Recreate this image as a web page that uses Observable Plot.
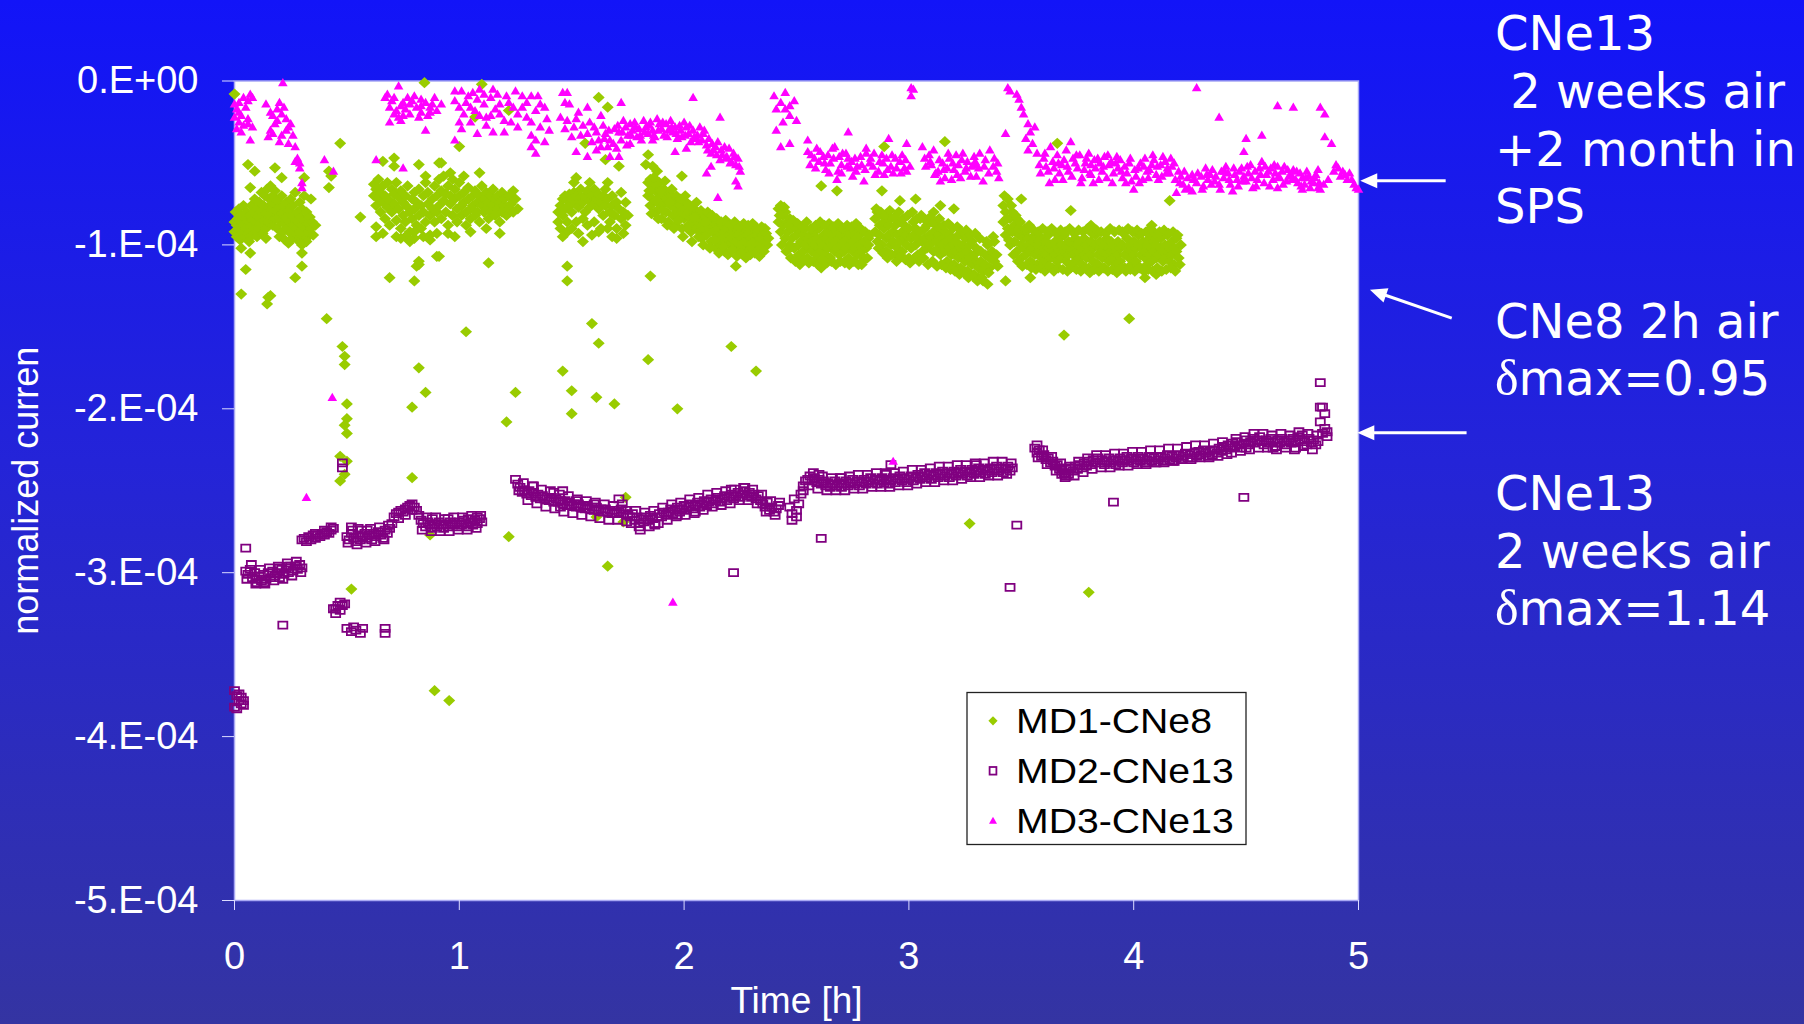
<!DOCTYPE html>
<html><head><meta charset="utf-8">
<script src="https://cdn.jsdelivr.net/npm/d3@7"></script>
<script src="https://cdn.jsdelivr.net/npm/@observablehq/plot@0.6"></script>
<style>
html,body{margin:0;padding:0;}
body{width:1804px;height:1024px;overflow:hidden;position:relative;
 background:linear-gradient(180deg,#1214f8 0%,#2424d8 45%,#3434a2 100%);}
#chart{position:absolute;left:0;top:0;}
#overlay{position:absolute;left:0;top:0;pointer-events:none;}
</style></head><body>
<div id="chart"></div>
<svg id="overlay" width="1804" height="1024"></svg>
<script>
// ---- data (time in h, current in units of 1e-4) ----
const seriesNames = ["MD1-CNe8", "MD2-CNe13", "MD3-CNe13"];
const seriesColors = ["#99cc00", "#800080", "#ff00ff"];
const xTicks = [0, 1, 2, 3, 4, 5];
const xTickLabels = ["0", "1", "2", "3", "4", "5"];
const yTicks = [0, -1, -2, -3, -4, -5];
const yTickLabels = ["0.E+00", "-1.E-04", "-2.E-04", "-3.E-04", "-4.E-04", "-5.E-04"];
const UNIT = 1e-4;

const md1 = [
[.0,-.86],[.0,-.92],[.005,-.8],[.01,-.88],[.01,-.95],[.015,-.84],[.02,-.9],[.02,-.78],[.025,-.97],[.03,-.86],[.03,-.82],[.035,-.92],[.04,-.88],[.04,-.76],[.045,-.95],[.05,-.84],[.05,-.9],[.055,-.8],[.06,-.93],[.06,-.86],[.065,-.98],[.07,-.82],[.07,-.89],[.075,-.76],[.08,-.85],[.08,-.94],[.085,-.8],[.09,-.9],[.09,-.72],[.095,-.86],[.1,-.78],[.1,-.95],[.105,-.83],[.11,-.74],[.11,-.9],[.115,-.87],[.12,-.8],[.12,-.68],[.125,-.93],[.13,-.76],[.13,-.85],[.135,-.7],[.14,-.9],[.14,-.81],[.145,-.66],[.15,-.77],[.15,-.86],[.155,-.72],[.16,-.82],[.16,-.64],[.165,-.78],[.17,-.7],[.17,-.88],[.175,-.75],[.18,-.84],[.18,-.67],[.185,-.79],[.19,-.9],[.19,-.73],[.195,-.83],[.2,-.77],[.2,-.95],[.205,-.86],[.21,-.7],[.21,-.81],[.215,-.92],[.22,-.76],[.22,-.87],[.225,-.97],[.23,-.83],[.23,-.74],[.235,-.9],[.24,-.79],[.24,-.99],[.245,-.86],[.25,-.72],[.25,-.93],[.255,-.82],[.26,-.88],[.26,-.76],[.265,-.95],[.27,-.84],[.27,-.68],[.275,-.9],[.28,-.8],[.28,-.97],[.285,-.86],[.29,-.74],[.29,-.92],[.295,-.83],[.3,-.88],[.3,-.78],[.305,-.95],[.31,-.85],[.31,-.7],[.315,-.9],[.32,-.8],[.32,-.96],[.325,-.87],[.33,-.92],[.335,-.83],[.34,-.9],[.345,-.86],[.35,-.94],[.36,-.88],
[.0,-.08],[.06,-.51],[.09,-.55],[.18,-.53],[.07,-.65],[.21,-.59],[.31,-.59],[.34,-.72],[.03,-1.02],[.07,-1.05],[.05,-1.15],[.3,-1.05],[.3,-1.13],[.27,-1.2],[.03,-1.3],[.15,-1.32],[.145,-1.36],[.16,-1.31],[.32,-.98],[.14,-.96],[.25,-.97],[.3,-1.0],
[.42,-.65],[.43,-.58],[.42,-.55],[.47,-.38],[.56,-.83],[.41,-1.45],[.48,-1.62],[.49,-1.68],[.49,-1.73],[.5,-1.97],[.5,-2.06],[.49,-2.1],[.5,-2.15],[.47,-2.29],[.5,-2.32],[.49,-2.4],[.47,-2.44],[.52,-3.1],
[.62,-.63],[.62,-.7],[.63,-.66],[.63,-.76],[.64,-.6],[.64,-.72],[.65,-.68],[.65,-.8],[.66,-.64],[.66,-.74],[.67,-.7],[.67,-.84],[.68,-.62],[.68,-.77],[.69,-.73],[.69,-.88],[.7,-.66],[.7,-.8],[.71,-.75],[.71,-.69],[.72,-.85],[.72,-.62],[.73,-.78],[.73,-.71],[.74,-.9],[.74,-.67],[.75,-.82],[.75,-.74],[.76,-.7],[.76,-.86],[.77,-.77],[.77,-.64],[.78,-.8],[.78,-.92],[.79,-.72],[.79,-.84],[.8,-.68],[.8,-.78],[.81,-.88],[.81,-.74],[.82,-.82],[.82,-.66],[.83,-.76],[.83,-.9],[.84,-.7],[.84,-.8],[.85,-.62],[.85,-.86],[.86,-.75],[.86,-.68],[.87,-.82],[.87,-.94],[.88,-.72],[.88,-.78],[.89,-.64],[.89,-.86],[.9,-.7],[.9,-.8],[.91,-.6],[.91,-.76],[.92,-.84],[.92,-.67],[.93,-.73],[.93,-.58],[.94,-.8],[.94,-.69],[.95,-.64],[.95,-.88],[.96,-.75],[.96,-.7],[.97,-.6],[.97,-.82],[.98,-.72],[.98,-.66],[.99,-.78],[.99,-.86],[1.0,-.7],[1.0,-.62],[1.01,-.76],[1.01,-.82],[1.02,-.68],[1.02,-.74],[1.03,-.8],[1.03,-.88],[1.04,-.72],[1.04,-.65],[1.05,-.78],[1.05,-.84],[1.06,-.7],[1.06,-.76],[1.07,-.82],[1.07,-.67],[1.08,-.74],[1.08,-.8],[1.09,-.7],[1.09,-.86],[1.1,-.76],[1.1,-.64],[1.11,-.8],[1.11,-.72],[1.12,-.68],[1.12,-.78],[1.13,-.74],[1.13,-.84],[1.14,-.7],[1.14,-.8],[1.15,-.76],[1.15,-.66],[1.16,-.72],[1.16,-.82],[1.17,-.78],[1.17,-.7],[1.18,-.74],[1.18,-.86],[1.19,-.8],[1.19,-.68],[1.2,-.76],[1.2,-.72],[1.21,-.82],[1.22,-.78],[1.22,-.7],[1.23,-.75],[1.24,-.8],[1.25,-.72],[1.26,-.78],
[.76,-.95],[.8,-.96],[.87,-.97],[.95,-.93],[.63,-.89],[.63,-.95],[.74,-.96],[.8,-.92],
[.66,-.49],[.71,-.47],[.71,-.52],[.82,-.51],[.92,-.5],[1.09,-.56],[1.24,-.67],[.9,-1.07],[.82,-1.12],[.8,-1.22],[.69,-1.2],[1.13,-1.11],[1.03,-1.53],[.81,-1.13],[.82,-1.1],[.91,-1.07],[1.0,-.4],[.845,-.01],[1.1,-.02],[1.22,-.18],[1.07,-.22],[.91,-.5],[.79,-1.99],[.82,-1.75],[.85,-1.9],[.79,-2.42],[.87,-2.77],[.89,-3.72],[.955,-3.78],[1.21,-2.08],[1.25,-1.9],[1.22,-2.78],
[1.44,-.8],[1.44,-.86],[1.45,-.76],[1.45,-.9],[1.46,-.72],[1.46,-.82],[1.47,-.7],[1.47,-.78],[1.48,-.73],[1.48,-.86],[1.49,-.69],[1.49,-.76],[1.5,-.72],[1.5,-.8],[1.51,-.68],[1.52,-.74],[1.52,-.7],[1.53,-.77],[1.54,-.71],[1.54,-.66],[1.55,-.74],[1.56,-.7],[1.56,-.8],[1.57,-.67],[1.58,-.73],[1.58,-.77],[1.59,-.7],[1.6,-.75],[1.6,-.66],[1.61,-.72],[1.62,-.78],[1.62,-.69],[1.63,-.74],[1.64,-.7],[1.64,-.82],[1.65,-.66],[1.65,-.76],[1.66,-.72],[1.67,-.8],[1.67,-.86],[1.68,-.7],[1.68,-.76],[1.69,-.82],[1.7,-.74],[1.7,-.9],[1.71,-.78],[1.72,-.84],[1.72,-.68],[1.73,-.8],[1.74,-.88],[1.74,-.74],[1.75,-.82],
[1.48,-.92],[1.55,-.84],[1.6,-.86],[1.66,-.9],[1.7,-.96],[1.52,-.86],[1.62,-.92],
[1.48,-1.13],[1.48,-1.22],[1.55,-.98],[1.52,-.59],[1.56,-.38],[1.62,-.1],[1.66,-.16],[1.59,-1.48],[1.62,-1.6],[1.46,-1.77],[1.5,-1.89],[1.5,-2.03],[1.61,-1.93],[1.69,-1.97],[1.74,-2.54],[1.61,-2.66],[1.73,-2.69],[1.66,-2.96],[1.65,-.48],[1.71,-.52],
[1.84,-.62],[1.84,-.7],[1.85,-.6],[1.85,-.76],[1.86,-.66],[1.86,-.72],[1.87,-.64],[1.87,-.8],[1.88,-.68],[1.88,-.74],[1.89,-.62],[1.89,-.78],[1.9,-.7],[1.9,-.84],[1.91,-.66],[1.91,-.75],[1.92,-.72],[1.92,-.8],[1.93,-.68],[1.93,-.86],[1.94,-.76],[1.94,-.7],[1.95,-.82],[1.95,-.74],[1.96,-.78],[1.96,-.88],[1.97,-.72],[1.97,-.8],[1.98,-.76],[1.98,-.84],[1.99,-.8],[1.99,-.9],[2.0,-.78],[2.0,-.84],[2.01,-.82],[2.01,-.74],[2.02,-.88],[2.02,-.8],[2.03,-.84],[2.03,-.92],[2.04,-.78],[2.04,-.86],[2.05,-.82],[2.05,-.9],[2.06,-.86],[2.06,-.8],[2.07,-.92],[2.07,-.84],[2.08,-.88],[2.08,-.96],[2.09,-.82],[2.09,-.9],[2.1,-.86],[2.1,-.94],[2.11,-.9],[2.11,-.84],[2.12,-.98],[2.12,-.88],[2.13,-.92],[2.13,-.86],[2.14,-.96],[2.14,-1.02],[2.15,-.9],[2.15,-.86],[2.16,-.94],[2.16,-1.0],[2.17,-.88],[2.17,-.96],[2.18,-.92],[2.18,-1.04],[2.19,-.98],[2.19,-.9],[2.2,-.94],[2.2,-1.0],[2.21,-.88],[2.21,-.96],[2.22,-1.02],[2.22,-.92],[2.23,-.98],[2.23,-.9],[2.24,-.94],[2.24,-1.04],[2.25,-1.0],[2.25,-.92],[2.26,-.96],[2.26,-1.02],[2.27,-.9],[2.27,-.98],[2.28,-.94],[2.28,-1.05],[2.29,-1.0],[2.29,-.92],[2.3,-.96],[2.3,-1.02],[2.31,-.9],[2.31,-.98],[2.32,-.94],[2.32,-1.04],[2.33,-1.0],[2.33,-.92],[2.34,-.96],[2.34,-1.02],[2.35,-.94],[2.36,-.98],[2.36,-.9],[2.37,-1.0],
[1.84,-.45],[1.83,-.51],[1.99,-.58],[1.85,-1.19],[2.23,-1.13],[1.84,-1.7],[2.21,-1.62],[2.32,-1.77],[1.97,-2.0],[1.86,-.52],[1.88,-.55],
[2.42,-.78],[2.42,-.86],[2.43,-.76],[2.43,-.92],[2.44,-.82],[2.44,-.88],[2.45,-.8],[2.45,-.96],[2.46,-.86],[2.46,-.92],[2.47,-.84],[2.47,-1.0],[2.48,-.9],[2.48,-.96],[2.49,-.88],[2.49,-1.02],[2.5,-.94],[2.5,-.9],[2.51,-1.0],[2.51,-1.06],[2.52,-.92],[2.52,-.98],[2.53,-1.04],[2.53,-.94],[2.54,-1.0],[2.54,-.9],[2.55,-.96],[2.55,-1.08],[2.56,-1.02],[2.56,-.94],[2.57,-.98],[2.57,-1.04],[2.58,-.92],[2.58,-1.0],[2.59,-.96],[2.59,-1.06],[2.6,-1.02],[2.6,-.9],[2.61,-.98],[2.61,-1.04],[2.62,-.94],[2.62,-1.0],[2.63,-1.06],[2.63,-.96],[2.64,-1.02],[2.64,-.92],[2.65,-.98],[2.65,-1.08],[2.66,-1.0],[2.66,-.94],[2.67,-1.04],[2.67,-.98],[2.68,-.92],[2.68,-1.02],[2.69,-.96],[2.69,-1.06],[2.7,-1.0],[2.7,-.94],[2.71,-1.04],[2.71,-.98],[2.72,-.92],[2.72,-1.02],[2.73,-.96],[2.73,-1.08],[2.74,-1.0],[2.74,-.94],[2.75,-1.04],[2.75,-.98],[2.76,-.92],[2.76,-1.02],[2.77,-.96],[2.77,-1.06],[2.78,-1.0],[2.78,-.94],[2.79,-1.04],[2.8,-.98],[2.8,-1.08],[2.81,-1.02],[2.82,-.96],[2.82,-1.0],
[2.61,-1.14],[2.61,-.64],[2.68,-.67],[2.79,-1.12],
[2.85,-.84],[2.85,-.92],[2.86,-.8],[2.86,-.98],[2.87,-.88],[2.87,-.94],[2.88,-.82],[2.88,-1.0],[2.89,-.9],[2.89,-.86],[2.9,-.96],[2.9,-1.04],[2.91,-.88],[2.91,-.94],[2.92,-1.0],[2.92,-.84],[2.93,-.92],[2.93,-.98],[2.94,-1.06],[2.94,-.88],[2.95,-.94],[2.95,-1.02],[2.96,-.86],[2.96,-.98],[2.97,-.92],[2.97,-1.04],[2.98,-.96],[2.98,-.88],[2.99,-1.0],[2.99,-.94],[3.0,-1.08],[3.0,-.9],[3.01,-.96],[3.01,-1.02],[3.02,-.86],[3.02,-.94],[3.03,-1.0],[3.03,-.9],[3.04,-.96],[3.04,-1.06],[3.05,-.92],[3.05,-.84],[3.06,-.98],[3.06,-1.04],[3.07,-.9],[3.07,-.96],[3.08,-1.02],[3.08,-.88],[3.09,-.94],[3.09,-1.0],[3.1,-.86],[3.1,-.96],[3.11,-1.04],[3.11,-.92],[3.12,-.98],[3.12,-.88],[3.13,-1.02],[3.13,-.94],[3.14,-.9],[3.14,-1.06],[3.15,-.96],[3.15,-1.0],[3.16,-.92],[3.16,-1.04],[3.17,-.98],[3.17,-1.1],[3.18,-.94],[3.18,-1.02],[3.19,-1.06],[3.19,-.96],[3.2,-1.0],[3.2,-1.12],[3.21,-.98],[3.21,-1.04],[3.22,-1.08],[3.22,-.94],[3.23,-1.02],[3.23,-1.14],[3.24,-1.0],[3.24,-1.06],[3.25,-1.1],[3.25,-.96],[3.26,-1.04],[3.26,-1.16],[3.27,-1.0],[3.27,-1.08],[3.28,-1.12],[3.28,-.98],[3.29,-1.06],[3.29,-1.18],[3.3,-1.02],[3.3,-1.1],[3.31,-1.14],[3.31,-1.2],[3.32,-1.04],[3.32,-1.1],[3.33,-1.16],[3.33,-1.22],[3.34,-1.06],[3.34,-1.12],[3.35,-1.24],[3.35,-1.0],[3.36,-1.08],[3.36,-1.14],[3.37,-1.04],[3.38,-1.1],[3.38,-.98],[3.39,-1.06],
[2.89,-.4],[3.16,-.37],[2.88,-.67],[2.96,-.73],[3.03,-.72],[3.11,-.8],[3.2,-.78],[3.27,-2.7],[3.14,-.76],
[3.42,-.76],[3.42,-.86],[3.43,-.8],[3.43,-.94],[3.44,-.72],[3.44,-.9],[3.45,-.84],[3.45,-1.0],[3.46,-.8],[3.46,-.92],[3.47,-.88],[3.47,-.98],[3.48,-.84],[3.48,-1.04],[3.49,-.94],[3.49,-.9],[3.5,-1.0],[3.5,-1.08],[3.51,-.96],[3.51,-1.02],[3.52,-.92],[3.52,-1.06],[3.53,-1.0],[3.53,-.96],[3.54,-1.04],[3.54,-1.1],[3.55,-.98],[3.55,-1.02],[3.56,-1.06],[3.56,-.94],[3.57,-1.0],[3.57,-1.12],[3.58,-1.04],[3.58,-.98],[3.59,-1.08],[3.59,-.96],[3.6,-1.02],[3.6,-1.1],[3.61,-.98],[3.61,-1.06],[3.62,-1.02],[3.62,-.94],[3.63,-1.08],[3.63,-1.0],[3.64,-1.04],[3.64,-1.14],[3.65,-.98],[3.65,-1.06],[3.66,-1.02],[3.66,-1.1],[3.67,-.96],[3.67,-1.04],[3.68,-1.08],[3.68,-1.0],[3.69,-1.04],[3.69,-.94],[3.7,-1.1],[3.7,-1.02],[3.71,-.98],[3.71,-1.06],[3.72,-1.02],[3.72,-1.14],[3.73,-1.0],[3.73,-1.06],[3.74,-.96],[3.74,-1.1],[3.75,-1.04],[3.75,-1.0],[3.76,-1.08],[3.76,-.98],[3.77,-1.02],[3.77,-1.12],[3.78,-1.06],[3.78,-.96],[3.79,-1.0],[3.79,-1.08],[3.8,-1.04],[3.8,-1.14],[3.81,-.98],[3.81,-1.06],[3.82,-1.02],[3.82,-1.1],[3.83,-1.0],[3.83,-.94],[3.84,-1.06],[3.84,-1.12],[3.85,-1.02],[3.85,-.98],[3.86,-1.08],[3.86,-1.04],[3.87,-1.0],[3.87,-1.14],[3.88,-1.06],[3.88,-.96],[3.89,-1.02],[3.89,-1.1],[3.9,-1.04],[3.9,-.98],[3.91,-1.08],[3.91,-1.0],[3.92,-1.12],[3.92,-1.04],[3.93,-.98],[3.93,-1.06],[3.94,-1.02],[3.94,-1.1],[3.95,-1.0],[3.95,-.92],[3.96,-1.06],[3.96,-1.14],[3.97,-1.02],[3.97,-.96],[3.98,-1.08],[3.98,-1.0],[3.99,-1.04],[3.99,-1.12],[4.0,-.98],[4.0,-1.06],[4.01,-1.02],[4.01,-1.1],[4.02,-1.0],[4.02,-.94],[4.03,-1.06],[4.03,-1.14],[4.04,-1.02],[4.04,-.98],[4.05,-1.08],[4.05,-1.04],[4.06,-1.0],[4.06,-1.12],[4.07,-1.06],[4.07,-.96],[4.08,-1.02],[4.08,-1.1],[4.09,-1.04],[4.09,-.98],[4.1,-1.08],[4.1,-1.0],[4.11,-1.06],[4.11,-1.16],[4.12,-1.02],[4.12,-.96],[4.13,-1.1],[4.13,-1.04],[4.14,-1.0],[4.14,-1.08],[4.15,-1.04],[4.15,-.94],[4.16,-1.1],[4.16,-1.02],[4.17,-.98],[4.17,-1.06],[4.18,-1.02],[4.18,-1.12],[4.19,-1.04],[4.19,-.96],[4.2,-1.08],[4.21,-1.0],
[3.5,-.72],[3.72,-.79],[3.81,-.88],[4.08,-.88],[4.16,-.73],[3.66,-.38],[3.98,-1.45],[3.69,-1.55],[3.8,-3.12],[3.43,-1.22],[3.54,-1.2],[4.1,-1.18],[4.05,-1.2]
];
const md1Extra = [
[.72,-.95],[.78,-.98],[.84,-.95],[.9,-.93],[.98,-.95],[1.05,-.92],[1.12,-.9],[1.18,-.93],[.66,-.93],[.85,-.58],[.96,-.56],[1.02,-.58],
[1.46,-.95],[1.5,-.9],[1.53,-.93],[1.57,-.88],[1.59,-.94],[1.63,-.9],[1.68,-.95],[1.73,-.93],[1.51,-.62],[1.58,-.62],[1.66,-.62],
[1.845,-.67],[1.855,-.81],[1.865,-.59],[1.875,-.73],[1.885,-.84],[1.895,-.67],[1.905,-.79],[1.915,-.61],[1.925,-.88],[1.935,-.74],[1.945,-.66],[1.955,-.9],[1.965,-.7],[1.975,-.85],[1.985,-.72],[1.995,-.95],[2.005,-.7],[2.015,-.9],[2.025,-.76],[2.035,-.98],[2.045,-.83],[2.055,-.74],[2.065,-.95],[2.075,-.79],[2.085,-1.0],[2.095,-.86],[2.105,-.8],[2.115,-1.02],[2.125,-.82],[2.135,-.97],[2.145,-.84],[2.155,-1.05],[2.165,-.86],[2.175,-1.01],[2.185,-.85],[2.195,-1.06],[2.205,-.88],[2.215,-1.03],[2.225,-.86],[2.235,-1.07],[2.245,-.89],[2.255,-1.05],[2.265,-.87],[2.275,-1.08],[2.285,-.88],[2.295,-1.06],[2.305,-.87],[2.315,-1.05],[2.325,-.9],[2.335,-1.07],[2.345,-.89],[2.355,-1.04],[2.365,-.93],[2.375,-.96],
[2.425,-.82],[2.435,-1.0],[2.445,-.77],[2.455,-1.04],[2.465,-.88],[2.475,-1.08],[2.485,-.85],[2.495,-1.1],[2.505,-.87],[2.515,-1.12],[2.525,-.89],[2.535,-1.09],[2.545,-.86],[2.555,-1.11],[2.565,-.9],[2.575,-1.1],[2.585,-.88],[2.595,-1.12],[2.605,-.86],[2.615,-1.09],[2.625,-.88],[2.635,-1.11],[2.645,-.87],[2.655,-1.1],[2.665,-.89],[2.675,-1.12],[2.685,-.87],[2.695,-1.1],[2.705,-.9],[2.715,-1.11],[2.725,-.88],[2.735,-1.12],[2.745,-.89],[2.755,-1.1],[2.765,-.87],[2.775,-1.12],[2.785,-.9],[2.795,-1.1],[2.805,-.92],[2.815,-1.08],[2.825,-.94],
[2.855,-.78],[2.865,-1.02],[2.875,-.8],[2.885,-1.05],[2.895,-.82],[2.905,-1.08],[2.915,-.79],[2.925,-1.06],[2.935,-.83],[2.945,-1.1],[2.955,-.8],[2.965,-1.07],[2.975,-.84],[2.985,-1.09],[2.995,-.82],[3.005,-1.11],[3.015,-.8],[3.025,-1.08],[3.035,-.84],[3.045,-1.1],[3.055,-.82],[3.065,-1.08],[3.075,-.85],[3.085,-1.12],[3.095,-.83],[3.105,-1.1],[3.115,-.86],[3.125,-1.13],[3.135,-.84],[3.145,-1.12],[3.155,-.88],[3.165,-1.14],[3.175,-.87],[3.185,-1.15],[3.195,-.9],[3.205,-1.16],[3.215,-.89],[3.225,-1.18],[3.235,-.92],[3.245,-1.17],[3.255,-.91],[3.265,-1.2],[3.275,-.94],[3.285,-1.19],[3.295,-.93],[3.305,-1.22],[3.315,-.96],[3.325,-1.2],[3.345,-.98],[3.355,-1.17],[3.375,-.95],[3.395,-1.13],
[3.425,-.7],[3.435,-.84],[3.445,-.97],[3.455,-.76],[3.465,-1.06],[3.475,-.82],[3.485,-1.1],[3.495,-.86],[3.505,-1.13],[3.515,-.9],[3.525,-1.12],[3.535,-.88],[3.545,-1.14],[3.555,-.91],[3.565,-1.15],[3.575,-.92],[3.585,-1.14],[3.595,-.9],[3.605,-1.16],[3.615,-.92],[3.625,-1.13],[3.635,-.9],[3.645,-1.16],[3.655,-.93],[3.665,-1.14],[3.675,-.91],[3.685,-1.15],[3.695,-.92],[3.705,-1.16],[3.715,-.9],[3.725,-1.13],[3.735,-.93],[3.745,-1.15],[3.755,-.91],[3.765,-1.16],[3.775,-.92],[3.785,-1.14],[3.795,-.9],[3.805,-1.17],[3.815,-.93],[3.825,-1.15],[3.835,-.91],[3.845,-1.16],[3.855,-.92],[3.865,-1.14],[3.875,-.93],[3.885,-1.16],[3.895,-.9],[3.905,-1.15],[3.915,-.92],[3.925,-1.17],[3.935,-.91],[3.945,-1.14],[3.955,-.93],[3.965,-1.16],[3.975,-.9],[3.985,-1.15],[3.995,-.92],[4.005,-1.16],[4.015,-.91],[4.025,-1.14],[4.035,-.93],[4.045,-1.16],[4.055,-.92],[4.065,-1.15],[4.075,-.9],[4.085,-1.16],[4.095,-.93],[4.105,-1.14],[4.115,-.92],[4.125,-1.16],[4.135,-.91],[4.145,-1.15],[4.155,-.93],[4.165,-1.14],[4.175,-.92],[4.185,-1.16],[4.195,-.94],[4.205,-1.12]
];

const md2 = [
[.0,-3.72],[.01,-3.75],[.02,-3.78],[.03,-3.8],[.04,-3.78],[.0,-3.82],[.01,-3.83],[.03,-3.76],[.02,-3.74],[.04,-3.81],[.05,-2.85],
[.05,-2.99],[.06,-3.01],[.07,-2.98],[.08,-3.03],[.09,-3.0],[.1,-3.04],[.11,-3.02],[.12,-3.05],[.13,-3.01],[.14,-3.04],[.15,-3.0],[.16,-3.03],[.17,-2.99],[.18,-3.02],[.19,-3.0],[.2,-3.03],[.21,-2.98],[.22,-3.01],[.23,-2.97],[.24,-3.0],[.25,-2.96],[.26,-2.99],[.27,-2.96],[.28,-2.98],[.29,-2.95],[.3,-2.97],[.1,-3.06],[.13,-3.06],[.2,-2.97],[.24,-2.96],[.215,-3.32],
[.3,-2.8],[.31,-2.79],[.32,-2.81],[.33,-2.78],[.34,-2.8],[.35,-2.77],[.36,-2.79],[.37,-2.77],[.38,-2.78],[.39,-2.76],[.4,-2.77],[.41,-2.75],[.42,-2.76],[.43,-2.74],[.44,-2.73],[.36,-2.76],[.4,-2.74],[.43,-2.72],
[.44,-3.22],[.45,-3.25],[.46,-3.2],[.47,-3.23],[.49,-3.19],[.48,-3.2],[.45,-3.22],[.47,-3.18],[.5,-3.34],[.52,-3.36],[.54,-3.35],[.56,-3.37],[.57,-3.34],[.53,-3.33],[.67,-3.34],[.67,-3.37],[.48,-2.33],[.48,-2.36],
[.5,-2.78],[.51,-2.8],[.52,-2.76],[.53,-2.79],[.54,-2.81],[.55,-2.77],[.56,-2.8],[.57,-2.78],[.58,-2.76],[.59,-2.79],[.6,-2.77],[.61,-2.8],[.62,-2.76],[.63,-2.78],[.64,-2.75],[.65,-2.77],[.66,-2.79],[.67,-2.74],[.68,-2.76],[.69,-2.73],[.52,-2.72],[.55,-2.73],[.59,-2.74],
[.7,-2.7],[.71,-2.66],[.72,-2.64],[.73,-2.63],[.74,-2.62],[.75,-2.63],[.76,-2.61],[.77,-2.6],[.78,-2.59],[.79,-2.58],[.8,-2.6],[.81,-2.62],[.82,-2.65],[.76,-2.65],[.79,-2.62],[.73,-2.67],
[.83,-2.68],[.84,-2.7],[.85,-2.72],[.86,-2.69],[.87,-2.71],[.88,-2.73],[.89,-2.7],[.9,-2.72],[.91,-2.69],[.92,-2.71],[.93,-2.73],[.94,-2.7],[.95,-2.72],[.96,-2.69],[.97,-2.71],[.98,-2.7],[.99,-2.72],[1.0,-2.69],[1.01,-2.71],[1.02,-2.68],[1.03,-2.7],[1.04,-2.72],[1.05,-2.69],[1.06,-2.71],[1.07,-2.68],[1.08,-2.7],[1.09,-2.67],[1.1,-2.69],[1.08,-2.66],[.88,-2.67],[.95,-2.67],[1.04,-2.67],
[1.25,-2.43],[1.26,-2.46],[1.27,-2.48],[1.28,-2.51],[1.29,-2.5],[1.3,-2.52],[1.31,-2.5],[1.32,-2.53],[1.33,-2.51],[1.34,-2.54],[1.35,-2.52],[1.36,-2.55],[1.37,-2.53],[1.38,-2.55],[1.39,-2.54],[1.4,-2.56],[1.41,-2.54],[1.42,-2.57],[1.43,-2.55],[1.44,-2.57],[1.45,-2.56],[1.46,-2.58],[1.47,-2.56],[1.48,-2.59],[1.49,-2.57],[1.5,-2.59],[1.51,-2.58],[1.52,-2.6],[1.53,-2.58],[1.54,-2.6],[1.55,-2.59],[1.56,-2.61],[1.57,-2.59],[1.58,-2.61],[1.59,-2.6],[1.6,-2.62],[1.61,-2.6],[1.62,-2.62],[1.63,-2.61],[1.64,-2.63],[1.65,-2.61],[1.66,-2.63],[1.67,-2.62],[1.68,-2.64],[1.69,-2.62],[1.7,-2.64],[1.71,-2.63],[1.72,-2.61],[1.73,-2.64],[1.74,-2.62],[1.75,-2.65],[1.33,-2.47],[1.42,-2.51],[1.45,-2.6],[1.52,-2.56],[1.6,-2.58],[1.46,-2.5],[1.71,-2.55],
[1.76,-2.66],[1.77,-2.64],[1.78,-2.68],[1.79,-2.66],[1.8,-2.7],[1.81,-2.67],[1.82,-2.69],[1.83,-2.66],[1.84,-2.68],[1.85,-2.65],[1.86,-2.67],[1.87,-2.7],[1.88,-2.66],[1.89,-2.64],[1.9,-2.66],[1.91,-2.63],[1.92,-2.65],[1.8,-2.72],[1.87,-2.71],
[1.93,-2.63],[1.94,-2.61],[1.95,-2.64],[1.96,-2.62],[1.97,-2.6],[1.98,-2.63],[1.99,-2.61],[2.0,-2.59],[2.01,-2.62],[2.02,-2.6],[2.03,-2.58],[2.04,-2.61],[2.05,-2.59],[2.06,-2.57],[2.07,-2.6],[2.08,-2.58],[2.09,-2.56],[2.1,-2.59],[2.11,-2.57],[2.12,-2.55],[2.13,-2.58],[2.14,-2.56],[2.15,-2.54],[2.16,-2.57],[2.17,-2.55],[2.18,-2.53],[2.19,-2.56],[2.2,-2.54],[2.21,-2.52],[2.22,-2.55],[2.23,-2.53],[2.24,-2.51],[2.25,-2.54],[2.26,-2.52],[2.27,-2.5],[2.28,-2.53],[2.29,-2.51],[2.3,-2.54],[2.31,-2.52],[2.32,-2.55],[2.33,-2.53],[2.34,-2.56],[2.35,-2.58],[2.36,-2.6],[2.37,-2.57],[2.38,-2.62],[2.39,-2.6],[2.4,-2.63],[2.41,-2.61],[2.42,-2.59],[2.21,-2.49],[2.27,-2.48],[2.05,-2.63],[1.97,-2.65],[2.22,-3.0],
[2.47,-2.6],[2.48,-2.64],[2.48,-2.68],[2.49,-2.55],[2.5,-2.62],[2.5,-2.66],[2.51,-2.58],[2.52,-2.52],[2.53,-2.5],[2.53,-2.47],[2.54,-2.44],[2.61,-2.79],
[2.55,-2.43],[2.56,-2.41],[2.57,-2.44],[2.58,-2.42],[2.59,-2.45],[2.6,-2.43],[2.61,-2.46],[2.62,-2.44],[2.63,-2.47],[2.64,-2.45],[2.65,-2.48],[2.66,-2.46],[2.67,-2.44],[2.68,-2.47],[2.69,-2.45],[2.7,-2.48],[2.71,-2.46],[2.72,-2.44],[2.73,-2.47],[2.74,-2.45],[2.75,-2.43],[2.76,-2.46],[2.77,-2.44],[2.78,-2.47],[2.79,-2.45],[2.8,-2.43],[2.81,-2.46],[2.82,-2.44],[2.83,-2.42],[2.84,-2.45],[2.85,-2.43],[2.86,-2.46],[2.87,-2.44],[2.88,-2.42],[2.89,-2.45],[2.9,-2.43],[2.91,-2.46],[2.92,-2.44],[2.93,-2.42],[2.94,-2.45],[2.95,-2.43],[2.96,-2.41],[2.97,-2.44],[2.98,-2.42],[2.99,-2.45],[3.0,-2.43],[3.01,-2.41],[3.02,-2.44],[3.03,-2.42],[3.04,-2.4],[3.05,-2.43],[3.06,-2.41],[3.07,-2.39],[3.08,-2.42],[3.09,-2.4],[3.1,-2.43],[3.11,-2.41],[3.12,-2.39],[3.13,-2.42],[3.14,-2.4],[3.15,-2.38],[3.16,-2.41],[3.17,-2.39],[3.18,-2.42],[3.19,-2.4],[3.2,-2.38],[3.21,-2.41],[3.22,-2.39],[3.23,-2.37],[3.24,-2.4],[3.25,-2.38],[3.26,-2.41],[3.27,-2.39],[3.28,-2.37],[3.29,-2.4],[3.3,-2.38],[3.31,-2.36],[3.32,-2.39],[3.33,-2.37],[3.34,-2.4],[3.35,-2.38],[3.36,-2.36],[3.37,-2.39],[3.38,-2.37],[3.39,-2.35],[3.4,-2.38],[3.41,-2.36],[3.42,-2.39],[3.43,-2.37],[3.44,-2.35],[3.45,-2.38],[3.46,-2.36],[2.6,-2.4],[2.7,-2.42],[2.9,-2.4],[3.3,-2.34],
[2.92,-2.34],[3.48,-2.71],[3.45,-3.09],[3.91,-2.57],[4.49,-2.54],
[3.56,-2.24],[3.57,-2.27],[3.58,-2.25],[3.59,-2.29],[3.6,-2.28],[3.61,-2.31],[3.62,-2.3],[3.63,-2.33],[3.64,-2.32],[3.65,-2.35],[3.66,-2.34],[3.67,-2.37],[3.68,-2.36],[3.69,-2.39],[3.7,-2.37],[3.71,-2.4],[3.72,-2.36],[3.73,-2.38],[3.74,-2.35],[3.75,-2.37],[3.76,-2.34],[3.77,-2.36],[3.78,-2.33],[3.79,-2.35],[3.8,-2.32],[3.81,-2.34],[3.82,-2.31],[3.83,-2.33],[3.84,-2.3],[3.85,-2.33],[3.86,-2.31],[3.87,-2.34],[3.88,-2.32],[3.89,-2.3],[3.9,-2.33],[3.91,-2.31],[3.92,-2.34],[3.93,-2.32],[3.94,-2.3],[3.95,-2.33],[3.96,-2.31],[3.97,-2.29],[3.98,-2.32],[3.99,-2.3],[4.0,-2.33],[4.01,-2.31],[4.02,-2.29],[4.03,-2.32],[4.04,-2.3],[4.05,-2.33],[4.06,-2.31],[4.07,-2.29],[4.08,-2.32],[4.09,-2.3],[4.1,-2.33],[4.11,-2.31],[4.12,-2.29],[4.13,-2.32],[4.14,-2.3],[4.15,-2.28],[4.16,-2.31],[4.17,-2.29],[4.18,-2.32],[4.19,-2.3],[4.2,-2.28],[4.21,-2.31],[4.22,-2.29],[4.23,-2.27],[4.24,-2.3],[4.25,-2.28],[4.26,-2.3],[4.27,-2.27],[4.28,-2.29],[4.29,-2.26],[4.3,-2.28],[4.31,-2.25],[4.32,-2.27],[4.33,-2.29],[4.34,-2.26],[4.35,-2.28],[4.36,-2.25],[4.37,-2.27],[4.38,-2.24],[4.39,-2.26],[4.4,-2.23],[4.41,-2.25],[4.42,-2.22],[3.7,-2.41],[3.68,-2.4],[3.57,-2.22],
[4.43,-2.24],[4.44,-2.21],[4.45,-2.23],[4.46,-2.2],[4.47,-2.22],[4.48,-2.24],[4.49,-2.21],[4.5,-2.19],[4.51,-2.22],[4.52,-2.2],[4.53,-2.18],[4.54,-2.21],[4.55,-2.19],[4.56,-2.17],[4.57,-2.2],[4.58,-2.22],[4.59,-2.19],[4.6,-2.21],[4.61,-2.18],[4.62,-2.2],[4.63,-2.23],[4.64,-2.19],[4.65,-2.21],[4.66,-2.18],[4.67,-2.2],[4.68,-2.22],[4.69,-2.19],[4.7,-2.21],[4.71,-2.18],[4.72,-2.2],[4.73,-2.17],[4.74,-2.19],[4.75,-2.16],[4.76,-2.2],[4.77,-2.22],[4.78,-2.18],[4.79,-2.21],[4.8,-2.19],[4.81,-2.22],[4.82,-2.2],[4.5,-2.24],[4.62,-2.24],[4.72,-2.24],
[4.83,-1.84],[4.83,-1.99],[4.84,-1.99],[4.85,-2.03],[4.83,-2.08],[4.85,-2.12],[4.86,-2.17],[4.84,-2.15],[4.86,-2.14]
];
const md2Extra = [
[.055,-3.04],[.075,-2.95],[.095,-3.07],[.115,-2.98],[.135,-3.07],[.155,-2.97],[.175,-3.05],[.195,-2.96],[.215,-3.04],[.235,-2.94],[.255,-3.02],[.275,-2.93],[.295,-3.0],
[.505,-2.82],[.525,-2.74],[.545,-2.83],[.565,-2.74],[.585,-2.82],[.605,-2.73],[.625,-2.81],[.645,-2.72],[.665,-2.8],[.685,-2.71],
[.835,-2.74],[.855,-2.66],[.875,-2.75],[.895,-2.66],[.915,-2.75],[.935,-2.67],[.955,-2.75],[.975,-2.66],[.995,-2.74],[1.015,-2.66],[1.035,-2.74],[1.055,-2.65],[1.075,-2.73],[1.095,-2.65],
[1.265,-2.5],[1.285,-2.45],[1.305,-2.56],[1.325,-2.47],[1.345,-2.58],[1.365,-2.49],[1.385,-2.6],[1.405,-2.5],[1.425,-2.61],[1.445,-2.52],[1.465,-2.63],[1.485,-2.53],[1.505,-2.64],[1.525,-2.55],[1.545,-2.65],[1.565,-2.56],[1.585,-2.66],[1.605,-2.57],[1.625,-2.67],[1.645,-2.58],[1.665,-2.68],[1.685,-2.59],[1.705,-2.68],[1.725,-2.58],[1.745,-2.69],
[1.765,-2.7],[1.785,-2.62],[1.805,-2.74],[1.825,-2.63],[1.845,-2.72],[1.865,-2.62],[1.885,-2.7],[1.905,-2.6],[1.925,-2.68],[1.945,-2.58],[1.965,-2.66],[1.985,-2.57],[2.005,-2.65],[2.025,-2.55],[2.045,-2.64],[2.065,-2.54],[2.085,-2.62],[2.105,-2.52],[2.125,-2.6],[2.145,-2.51],[2.165,-2.59],[2.185,-2.5],[2.205,-2.58],[2.225,-2.49],[2.245,-2.56],[2.265,-2.48],[2.285,-2.56],[2.305,-2.49],[2.325,-2.58],[2.345,-2.52],[2.365,-2.63],[2.385,-2.56],[2.405,-2.65],[2.425,-2.57],
[2.555,-2.47],[2.575,-2.39],[2.595,-2.49],[2.615,-2.41],[2.635,-2.5],[2.655,-2.42],[2.675,-2.5],[2.695,-2.42],[2.715,-2.5],[2.735,-2.41],[2.755,-2.49],[2.775,-2.4],[2.795,-2.49],[2.815,-2.4],[2.835,-2.48],[2.855,-2.39],[2.875,-2.48],[2.895,-2.39],[2.915,-2.48],[2.935,-2.39],[2.955,-2.47],[2.975,-2.38],[2.995,-2.47],[3.015,-2.37],[3.035,-2.46],[3.055,-2.37],[3.075,-2.45],[3.095,-2.36],[3.115,-2.45],[3.135,-2.35],[3.155,-2.44],[3.175,-2.35],[3.195,-2.44],[3.215,-2.34],[3.235,-2.43],[3.255,-2.34],[3.275,-2.42],[3.295,-2.33],[3.315,-2.42],[3.335,-2.33],[3.355,-2.41],[3.375,-2.32],[3.395,-2.41],[3.415,-2.32],[3.435,-2.4],[3.455,-2.33],
[3.575,-2.3],[3.595,-2.25],[3.615,-2.34],[3.635,-2.29],[3.655,-2.38],[3.675,-2.33],[3.695,-2.42],[3.715,-2.35],[3.735,-2.41],[3.755,-2.32],[3.775,-2.39],[3.795,-2.3],[3.815,-2.37],[3.835,-2.28],[3.855,-2.36],[3.875,-2.28],[3.895,-2.36],[3.915,-2.27],[3.935,-2.35],[3.955,-2.27],[3.975,-2.35],[3.995,-2.26],[4.015,-2.34],[4.035,-2.26],[4.055,-2.34],[4.075,-2.25],[4.095,-2.33],[4.115,-2.25],[4.135,-2.33],[4.155,-2.24],[4.175,-2.32],[4.195,-2.24],[4.215,-2.31],[4.235,-2.23],[4.255,-2.31],[4.275,-2.22],[4.295,-2.3],[4.315,-2.22],[4.335,-2.3],[4.355,-2.21],[4.375,-2.29],[4.395,-2.2],[4.415,-2.28],
[4.435,-2.27],[4.455,-2.18],[4.475,-2.26],[4.495,-2.17],[4.515,-2.25],[4.535,-2.15],[4.555,-2.24],[4.575,-2.15],[4.595,-2.24],[4.615,-2.16],[4.635,-2.25],[4.655,-2.15],[4.675,-2.24],[4.695,-2.16],[4.715,-2.25],[4.735,-2.14],[4.755,-2.23],[4.775,-2.15],[4.795,-2.25],[4.815,-2.16]
];

const md3 = [
[.01,-.17],[.04,-.1],[.07,-.08],[.06,-.12],[.02,-.19],[.06,-.23],[.06,-.26],[.01,-.29],[.03,-.31],[.07,-.36],[.14,-.14],[.2,-.13],[.22,-.16],[.17,-.21],[.23,-.23],[.18,-.26],[.25,-.26],[.16,-.3],[.15,-.34],[.2,-.37],[.24,-.38],[.215,-.01],[.28,-.47],[.27,-.49],[.29,-.53],[.3,-.62],[.3,-.65],[.4,-.48],[.44,-.55],[.63,-.48],[.75,-.53],
[.0,-.22],[.0,-.14],[.02,-.13],[.03,-.21],[.05,-.16],[.08,-.1],[.08,-.28],[.04,-.27],[.16,-.19],[.19,-.17],[.21,-.2],[.24,-.28],[.17,-.32],[.21,-.33],[.19,-.24],[.23,-.3],[.26,-.33],[.02,-.25],[.27,-.4],[.29,-.5],
[.435,-1.93],[.32,-2.54],
[.68,-.08],[.71,-.1],[.73,-.03],[.77,-.1],[.8,-.09],[.83,-.11],[.89,-.1],[.69,-.16],[.74,-.15],[.78,-.14],[.83,-.15],[.87,-.16],[.92,-.14],[.71,-.2],[.75,-.21],[.78,-.2],[.83,-.19],[.87,-.19],[.69,-.25],[.74,-.24],[.85,-.3],
[.7,-.12],[.72,-.18],[.76,-.17],[.79,-.12],[.81,-.16],[.85,-.13],[.86,-.21],[.88,-.14],[.9,-.18],[.75,-.13],[.73,-.22],[.82,-.22],[.67,-.1],
[.98,-.06],[1.01,-.06],[1.06,-.07],[1.11,-.08],[1.15,-.05],[1.17,-.08],[1.25,-.06],[1.28,-.09],[1.32,-.09],[1.35,-.09],[.98,-.12],[1.03,-.13],[1.08,-.11],[1.14,-.1],[1.21,-.09],[1.0,-.16],[1.05,-.16],[1.11,-.14],[1.18,-.14],[1.24,-.16],[1.28,-.16],[1.36,-.14],[1.0,-.25],[1.05,-.25],[1.09,-.21],[1.14,-.21],[1.18,-.2],[1.23,-.25],[1.26,-.28],[1.32,-.25],[1.38,-.16],[1.39,-.23],[1.01,-.29],[1.08,-.32],[1.15,-.31],[1.2,-.31],[1.32,-.33],[1.34,-.36],[1.38,-.37],[1.32,-.4],[1.34,-.44],[.98,-.36],
[1.02,-.2],[1.07,-.18],[1.12,-.22],[1.16,-.17],[1.2,-.24],[1.22,-.13],[1.26,-.2],[1.3,-.13],[1.3,-.22],[1.34,-.18],[1.36,-.28],[1.4,-.3],[1.12,-.27],[1.04,-.09],[1.09,-.05],
[1.46,-.07],[1.48,-.07],[1.47,-.13],[1.49,-.14],[1.53,-.19],[1.57,-.16],[1.45,-.22],[1.48,-.24],[1.52,-.23],[1.47,-.29],[1.5,-.34],[1.54,-.33],[1.57,-.32],[1.61,-.31],[1.52,-.43],[1.57,-.46],[1.61,-.42],[1.62,-.36],[1.55,-.27],[1.59,-.37],[1.6,-.28],[1.63,-.4],[1.58,-.25],[1.51,-.28],
[1.65,-.32],[1.67,-.36],[1.71,-.31],[1.74,-.28],[1.76,-.26],[1.79,-.34],[1.82,-.24],[1.84,-.32],[1.88,-.23],[1.9,-.29],[1.92,-.26],[1.95,-.31],[1.98,-.27],[1.99,-.34],[2.01,-.28],[2.05,-.35],[2.07,-.28],[2.08,-.36],[2.1,-.39],[2.13,-.42],[2.14,-.4],[2.17,-.45],[2.2,-.41],[2.21,-.49],[2.23,-.51],[1.7,-.41],[1.67,-.46],[1.71,-.46],[1.86,-.36],[1.96,-.43],[2.01,-.41],[1.76,-.38],
[1.64,-.27],[1.66,-.4],[1.69,-.29],[1.72,-.36],[1.73,-.24],[1.75,-.33],[1.77,-.3],[1.78,-.25],[1.8,-.29],[1.81,-.36],[1.83,-.28],[1.85,-.25],[1.86,-.3],[1.87,-.34],[1.89,-.26],[1.91,-.33],[1.93,-.3],[1.94,-.24],[1.96,-.28],[1.97,-.35],[2.0,-.25],[2.02,-.32],[2.03,-.37],[2.04,-.3],[2.06,-.33],[2.09,-.3],[2.11,-.35],[2.12,-.44],[2.15,-.37],[2.16,-.48],[2.18,-.4],[2.19,-.46],[2.22,-.44],[2.24,-.47],[2.25,-.55],
[1.72,-.13],[2.04,-.1],[2.16,-.22],[2.15,-.71],[2.1,-.56],[2.12,-.52],[2.23,-.61],[2.24,-.64],[1.63,-.21],
[2.4,-.09],[2.45,-.07],[2.49,-.12],[2.41,-.17],[2.45,-.17],[2.47,-.15],[2.47,-.21],[2.5,-.24],[2.41,-.3],[2.43,-.4],[2.47,-.38],[2.43,-.13],[2.44,-.25],
[2.55,-.36],[2.55,-.43],[2.59,-.41],[2.6,-.49],[2.63,-.54],[2.66,-.41],[2.7,-.51],[2.7,-.56],[2.73,-.47],[2.76,-.47],[2.79,-.51],[2.81,-.44],[2.83,-.47],[2.87,-.49],[2.9,-.47],[2.92,-.52],[2.96,-.49],[2.98,-.53],[2.99,-.55],[2.81,-.41],[2.85,-.57],[2.89,-.57],[2.68,-.6],[2.8,-.61],[2.67,-.4],[2.56,-.51],[2.64,-.45],[2.74,-.53],
[2.58,-.47],[2.62,-.46],[2.65,-.5],[2.72,-.44],[2.77,-.52],[2.84,-.52],[2.88,-.45],[2.94,-.47],[2.97,-.45],[2.93,-.56],[2.75,-.58],[2.69,-.46],
[2.73,-.31],[2.91,-.35],[2.99,-.38],[3.06,-.4],[3.01,-.04],[3.02,-.05],[3.01,-.09],[1.95,-3.18],[2.93,-2.32],
[3.07,-.47],[3.09,-.45],[3.1,-.51],[3.13,-.55],[3.14,-.61],[3.16,-.59],[3.18,-.47],[3.21,-.45],[3.22,-.51],[3.23,-.59],[3.26,-.49],[3.29,-.46],[3.3,-.51],[3.31,-.53],[3.33,-.61],[3.36,-.42],[3.38,-.47],[3.39,-.55],[3.4,-.59],[3.19,-.6],[3.12,-.56],[3.3,-.58],
[3.11,-.42],[3.15,-.5],[3.2,-.54],[3.25,-.55],[3.28,-.52],[3.34,-.48],[3.17,-.53],[3.24,-.44],
[3.44,-.04],[3.48,-.08],[3.49,-.11],[3.5,-.16],[3.51,-.2],[3.53,-.26],[3.54,-.31],[3.52,-.35],[3.53,-.42],[3.43,-.32],[3.56,-.28],[3.55,-.38],[3.45,-.06],
[3.58,-.51],[3.6,-.47],[3.62,-.55],[3.65,-.6],[3.66,-.45],[3.68,-.51],[3.7,-.42],[3.71,-.55],[3.73,-.47],[3.75,-.53],[3.77,-.59],[3.79,-.47],[3.81,-.51],[3.82,-.62],[3.84,-.47],[3.86,-.55],[3.88,-.59],[3.89,-.51],[3.93,-.53],[3.95,-.59],[3.97,-.56],[3.99,-.61],[4.0,-.66],[4.02,-.53],[4.05,-.47],[4.08,-.51],[4.1,-.57],[4.12,-.51],[4.15,-.53],[4.17,-.52],[3.63,-.4],[3.72,-.37],[3.81,-.57],[3.9,-.49],[3.91,-.56],[3.94,-.48],[4.06,-.55],[4.13,-.46],
[3.57,-.44],[3.61,-.52],[3.64,-.49],[3.67,-.56],[3.69,-.48],[3.74,-.5],[3.76,-.45],[3.78,-.54],[3.8,-.44],[3.83,-.53],[3.85,-.5],[3.87,-.46],[3.92,-.5],[3.96,-.52],[3.98,-.5],[4.01,-.58],[4.03,-.5],[4.04,-.6],[4.07,-.54],[4.09,-.48],[4.11,-.6],[4.14,-.49],[4.16,-.56],[4.18,-.5],[4.2,-.55],
[4.19,-.68],[4.22,-.63],[4.24,-.59],[4.26,-.57],[4.28,-.62],[4.32,-.53],[4.34,-.57],[4.36,-.61],[4.39,-.55],[4.41,-.52],[4.43,-.63],[4.45,-.57],[4.48,-.53],[4.5,-.61],[4.52,-.51],[4.54,-.55],[4.57,-.49],[4.59,-.57],[4.61,-.53],[4.64,-.52],[4.66,-.55],[4.68,-.61],[4.7,-.57],[4.73,-.62],[4.75,-.59],[4.77,-.55],[4.79,-.61],[4.82,-.65],[4.83,-.66],[4.26,-.67],[4.44,-.67],[4.53,-.65],[4.64,-.65],[4.75,-.66],
[4.21,-.58],[4.23,-.66],[4.27,-.6],[4.3,-.58],[4.31,-.64],[4.33,-.6],[4.35,-.54],[4.38,-.63],[4.4,-.59],[4.42,-.56],[4.46,-.6],[4.47,-.55],[4.49,-.58],[4.51,-.56],[4.55,-.6],[4.56,-.53],[4.58,-.62],[4.6,-.55],[4.62,-.6],[4.63,-.56],[4.65,-.59],[4.67,-.52],[4.69,-.58],[4.71,-.54],[4.72,-.6],[4.74,-.56],[4.76,-.63],[4.78,-.58],[4.8,-.62],[4.81,-.57],
[4.28,-.04],[4.38,-.22],[4.64,-.15],[4.71,-.16],[4.83,-.16],[4.85,-.2],[4.85,-.34],[4.88,-.38],[4.5,-.35],[4.57,-.33],[4.49,-.43],[4.82,-.54],
[4.9,-.51],[4.91,-.53],[4.93,-.55],[4.94,-.57],[4.95,-.6],[4.97,-.6],[4.98,-.63],[4.99,-.65],[5.0,-.66],[4.92,-.58],[4.96,-.56],[4.89,-.55]
];
const md3Extra = [
[1.645,-.35],[1.665,-.3],[1.685,-.38],[1.705,-.27],[1.725,-.31],[1.745,-.39],[1.765,-.33],[1.785,-.28],[1.805,-.33],[1.825,-.31],[1.845,-.27],[1.865,-.33],[1.885,-.3],[1.905,-.25],[1.925,-.34],[1.945,-.28],[1.965,-.32],[1.985,-.3],[2.005,-.33],[2.025,-.27],[2.045,-.34],[2.065,-.37],[2.085,-.32],[2.105,-.42],[2.125,-.38],[2.145,-.45],[2.165,-.42],[2.185,-.47],[2.205,-.5],[2.225,-.46],[2.245,-.52],
[2.565,-.45],[2.585,-.53],[2.605,-.43],[2.625,-.5],[2.645,-.56],[2.665,-.47],[2.685,-.55],[2.705,-.44],[2.725,-.52],[2.745,-.49],[2.765,-.55],[2.785,-.46],[2.805,-.54],[2.825,-.5],[2.845,-.44],[2.865,-.55],[2.885,-.5],[2.905,-.54],[2.925,-.45],[2.945,-.53],[2.965,-.56],[2.985,-.48],[3.005,-.52],
[3.075,-.52],[3.095,-.49],[3.115,-.57],[3.135,-.48],[3.155,-.54],[3.175,-.44],[3.195,-.5],[3.215,-.57],[3.235,-.48],[3.255,-.53],[3.275,-.58],[3.295,-.49],[3.315,-.44],[3.335,-.52],[3.355,-.56],[3.375,-.52],[3.395,-.5],
[3.585,-.56],[3.605,-.44],[3.625,-.62],[3.645,-.53],[3.665,-.5],[3.685,-.6],[3.705,-.52],[3.725,-.58],[3.745,-.45],[3.765,-.62],[3.785,-.5],[3.805,-.56],[3.825,-.48],[3.845,-.6],[3.865,-.52],[3.885,-.45],[3.905,-.62],[3.925,-.46],[3.945,-.55],[3.965,-.62],[3.985,-.47],[4.005,-.54],[4.025,-.62],[4.045,-.52],[4.065,-.59],[4.085,-.45],[4.105,-.52],[4.125,-.58],[4.145,-.56],[4.165,-.47],[4.185,-.6],
[4.205,-.62],[4.225,-.55],[4.245,-.65],[4.265,-.6],[4.285,-.56],[4.305,-.66],[4.325,-.57],[4.345,-.63],[4.365,-.58],[4.385,-.66],[4.405,-.55],[4.425,-.6],[4.445,-.53],[4.465,-.64],[4.485,-.61],[4.505,-.52],[4.525,-.59],[4.545,-.64],[4.565,-.57],[4.585,-.52],[4.605,-.64],[4.625,-.51],[4.645,-.58],[4.665,-.63],[4.685,-.54],[4.705,-.6],[4.725,-.55],[4.745,-.64],[4.765,-.59],[4.785,-.65],[4.805,-.59],[4.825,-.62],[4.845,-.63],[4.865,-.6]
];

// annotation arrows (data units: hours, 1e-4)
const arrows = [
  {x1: 5.39, y1: -0.611, x2: 5.01, y2: -0.611},
  {x1: 5.417, y1: -1.45, x2: 5.053, y2: -1.277},
  {x1: 5.483, y1: -2.149, x2: 4.997, y2: -2.149}
];
const annotationLines = [
  {text: "CNe13", y: 50}, {text: " 2 weeks air", y: 108}, {text: "+2 month in", y: 166}, {text: "SPS", y: 223},
  {text: "CNe8 2h air", y: 338}, {text: "\u03b4max=0.95", y: 395},
  {text: "CNe13", y: 510}, {text: "2 weeks air", y: 568}, {text: "\u03b4max=1.14", y: 625}
];

// ---- symbols ----
const diamondSym = {draw(ctx) { ctx.moveTo(0, -5.6); ctx.lineTo(6.0, 0); ctx.lineTo(0, 5.6); ctx.lineTo(-6.0, 0); ctx.closePath(); }};
const rectSym = {draw(ctx) { ctx.moveTo(-4.5, -3.5); ctx.lineTo(4.5, -3.5); ctx.lineTo(4.5, 3.5); ctx.lineTo(-4.5, 3.5); ctx.closePath(); }};
const triSym = {draw(ctx) { ctx.moveTo(0, -4.6); ctx.lineTo(4.8, 3.6); ctx.lineTo(-4.8, 3.6); ctx.closePath(); }};

const toRows = (arr) => arr.map(([t, v]) => ({t, v: v * UNIT}));
const rows1 = toRows(md1.concat(md1Extra)), rows2 = toRows(md2.concat(md2Extra)), rows3 = toRows(md3.concat(md3Extra));
const yTickVals = yTicks.map(v => v * UNIT);

const chart = Plot.plot({
  width: 1804, height: 1024,
  marginLeft: 234, marginRight: 446, marginTop: 80.5, marginBottom: 124,
  style: {background: "transparent", fontFamily: "'Liberation Sans', Arial, sans-serif", fontSize: "38px", color: "white", overflow: "visible"},
  x: {domain: [0, 5]},
  y: {domain: [-5 * UNIT, 0]},
  marks: [
    Plot.frame({fill: "white", stroke: "#a8a8f4", strokeWidth: 1.5}),
    Plot.axisX({ticks: xTicks, tickFormat: d => xTickLabels[xTicks.indexOf(d)], tickSize: 10, tickPadding: 32, stroke: "#dcdcff", fill: "white", label: null}),
    Plot.axisY({ticks: yTickVals, tickFormat: d => yTickLabels[yTickVals.findIndex(v => Math.abs(v - d) < 1e-12)], tickSize: 12, tickPadding: 24, stroke: "#dcdcff", fill: "white", label: null}),
    Plot.dot(rows1, {x: "t", y: "v", symbol: diamondSym, fill: seriesColors[0], stroke: "none"}),
    Plot.dot(rows2, {x: "t", y: "v", symbol: rectSym, fill: "none", stroke: seriesColors[1], strokeWidth: 1.8}),
    Plot.dot(rows3, {x: "t", y: "v", symbol: triSym, fill: seriesColors[2], stroke: "none"}),
    Plot.text(["Time [h]"], {frameAnchor: "bottom", dy: 101, text: d => d, fill: "white", fontSize: 37, lineAnchor: "middle", textAnchor: "middle"}),
    Plot.text(["normalized curren"], {frameAnchor: "left", dx: -208, rotate: -90, text: d => d, fill: "white", fontSize: 36, lineAnchor: "middle", textAnchor: "middle"})
  ]
});
document.getElementById("chart").appendChild(chart);

// ---- overlay: legend, annotations, arrows ----
const ov = d3.select("#overlay");
const sx = chart.scale("x"), sy = chart.scale("y");
const fx = sx.apply ? (v => sx.apply(v)) : d3.scaleLinear(sx.domain, sx.range);
const fy = sy.apply ? (v => sy.apply(v)) : d3.scaleLinear(sy.domain, sy.range);

// legend
const lg = ov.append("g").attr("transform", "translate(967,692.5)");
lg.append("rect").attr("width", 279).attr("height", 152).attr("fill", "white").attr("stroke", "#222").attr("stroke-width", 1.3);
const legendSyms = [
  g => g.append("path").attr("d", "M0,-4.6L4.6,0L0,4.6L-4.6,0Z").attr("fill", seriesColors[0]),
  g => g.append("rect").attr("x", -3.4).attr("y", -3.8).attr("width", 6.8).attr("height", 7.6).attr("fill", "none").attr("stroke", seriesColors[1]).attr("stroke-width", 1.8),
  g => g.append("path").attr("d", "M0,-4L4,3L-4,3Z").attr("fill", seriesColors[2])
];
seriesNames.forEach((name, i) => {
  const cy = 28.3 + i * 50;
  const g = lg.append("g").attr("transform", `translate(26,${cy})`);
  legendSyms[i](g);
  lg.append("text").attr("transform", `translate(49,${cy + 12.3}) scale(1.12,1)`)
    .attr("font-family", "'Liberation Sans', Arial, sans-serif").attr("font-size", 35).attr("fill", "black").text(name);
});

// annotations
annotationLines.forEach(l => {
  const t = ov.append("text").attr("x", 1495).attr("y", l.y).attr("fill", "white")
    .attr("font-family", "'DejaVu Sans', Verdana, sans-serif").attr("font-size", 48).style("white-space", "pre");
  if (l.text.startsWith("\u03b4")) {
    t.append("tspan").attr("font-family", "'Liberation Serif', 'DejaVu Serif', serif").attr("font-size", 50).text("\u03b4");
    t.append("tspan").text(l.text.slice(1));
  } else t.text(l.text);
});

// arrows
arrows.forEach(a => {
  const x1 = fx(a.x1), y1 = fy(a.y1 * UNIT), x2 = fx(a.x2), y2 = fy(a.y2 * UNIT);
  const dx = x2 - x1, dy = y2 - y1, L = Math.hypot(dx, dy), ux = dx / L, uy = dy / L;
  const hl = 17, hw = 7.5, bx = x2 - ux * hl, by = y2 - uy * hl;
  ov.append("line").attr("x1", x1).attr("y1", y1).attr("x2", bx + ux * 2).attr("y2", by + uy * 2)
    .attr("stroke", "white").attr("stroke-width", 3);
  ov.append("path").attr("d", `M${x2},${y2}L${bx - uy * hw},${by + ux * hw}L${bx + uy * hw},${by - ux * hw}Z`).attr("fill", "white");
});
</script>
</body></html>
